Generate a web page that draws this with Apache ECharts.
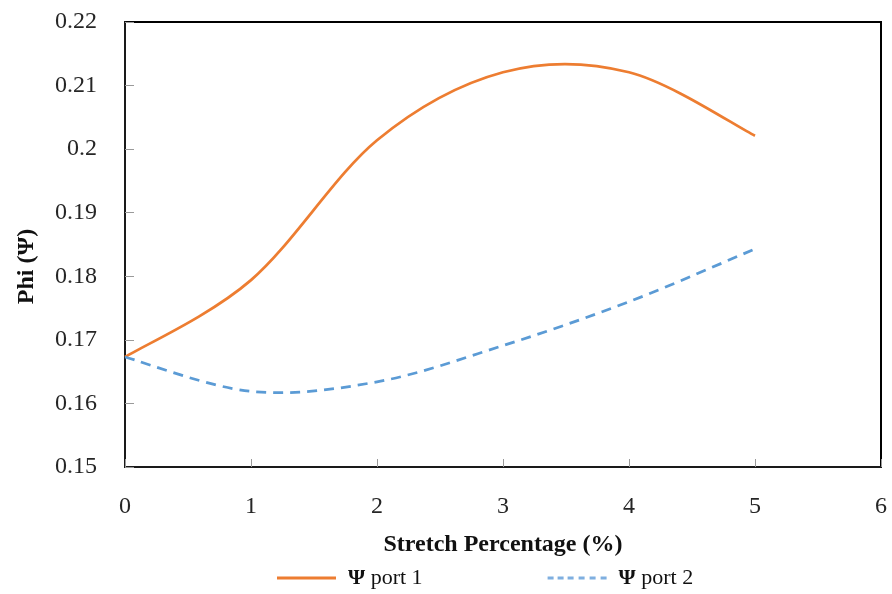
<!DOCTYPE html>
<html>
<head>
<meta charset="utf-8">
<script src="https://cdn.jsdelivr.net/npm/echarts@6/dist/echarts.min.js"></script>
<style>
  html, body { margin: 0; padding: 0; background: #fff; }
  #chart { width: 892px; height: 594px; }
</style>
</head>
<body>
<div id="chart"></div>
<script>
// Stretch percentage (%) and the phase value Phi (Ψ) at each port
const stretch = [0, 1, 2, 3, 4, 5];
const port1 = [0.1673, 0.1794, 0.2014, 0.2121, 0.2121, 0.2021];
const port2 = [0.1673, 0.1619, 0.1634, 0.1691, 0.1760, 0.1843];
const seriesNames = ['Ψ port 1', 'Ψ port 2'];

const serif = '"Liberation Serif", "DejaVu Serif", serif';
const textColor = '#262626';

function pairs(xs, ys) {
  return xs.map((x, i) => [x, ys[i]]);
}

// Smoothed line through the data points (cardinal spline drawn as cubic Béziers),
// with every point placed by the chart's own axes via api.coord.
function smoothLine(xs, ys, lineStyle) {
  return function (params, api) {
    if (params.dataIndex !== 0) return null;
    const pts = xs.map((x, i) => api.coord([x, ys[i]]));
    const n = pts.length;
    let d = 'M' + pts[0][0] + ',' + pts[0][1];
    for (let i = 0; i < n - 1; i++) {
      const p0 = pts[Math.max(i - 1, 0)];
      const p1 = pts[i];
      const p2 = pts[i + 1];
      const p3 = pts[Math.min(i + 2, n - 1)];
      const c1x = p1[0] + (p2[0] - p0[0]) / 6;
      const c1y = p1[1] + (p2[1] - p0[1]) / 6;
      const c2x = p2[0] - (p3[0] - p1[0]) / 6;
      const c2y = p2[1] - (p3[1] - p1[1]) / 6;
      d += ' C' + c1x + ',' + c1y + ' ' + c2x + ',' + c2y + ' ' + p2[0] + ',' + p2[1];
    }
    return {
      type: 'path',
      shape: { pathData: d },
      style: Object.assign({ fill: null, lineCap: 'butt', lineJoin: 'round' }, lineStyle)
    };
  };
}

const solidIcon = 'path://M0,0H59V3H0Z';
const dottedIcon = 'path://M0,0h6v3h-6zM10,0h6v3h-6zM20,0h6v3h-6zM31,0h6v3h-6zM42,0h6v3h-6zM53,0h6v3h-6z';

const chart = echarts.init(document.getElementById('chart'), null, { renderer: 'canvas' });

chart.setOption({
  animation: false,
  backgroundColor: '#ffffff',
  grid: {
    left: 125, right: 11, top: 22, bottom: 127,
    show: true, borderColor: '#000', borderWidth: 2, backgroundColor: 'transparent'
  },
  xAxis: {
    type: 'value', min: 0, max: 6, interval: 1,
    name: 'Stretch Percentage (%)', nameLocation: 'middle', nameGap: 66,
    nameTextStyle: { fontFamily: serif, fontWeight: 'bold', fontSize: 24, color: '#111' },
    axisLine: { show: true, lineStyle: { color: '#1a1a1a', width: 2 } },
    axisTick: { show: true, inside: true, length: 8, lineStyle: { color: '#9a9a9a', width: 1 } },
    axisLabel: { fontFamily: serif, fontSize: 24, color: textColor, margin: 28 },
    splitLine: { show: false }
  },
  yAxis: {
    type: 'value', min: 0.15, max: 0.22, interval: 0.01,
    name: 'Phi (Ψ)', nameLocation: 'middle', nameGap: 86, nameRotate: 90,
    nameTextStyle: {
      fontFamily: serif, fontWeight: 'bold', fontSize: 24, color: '#111',
      padding: [0, 44, 0, 0]
    },
    axisLine: { show: true, lineStyle: { color: '#1a1a1a', width: 2 } },
    axisTick: { show: true, inside: true, length: 9, lineStyle: { color: '#9a9a9a', width: 1 } },
    axisLabel: {
      fontFamily: serif, fontSize: 24, color: textColor, margin: 28,
      formatter: v => String(parseFloat(v.toFixed(2)))
    },
    splitLine: { show: false }
  },
  legend: {
    bottom: 5, left: 277, padding: 0, itemGap: 125, itemWidth: 59, itemHeight: 3,
    data: [
      { name: seriesNames[0], icon: solidIcon },
      { name: seriesNames[1], icon: dottedIcon, itemStyle: { color: '#7FAFE0' } }
    ],
    textStyle: {
      fontFamily: serif, fontSize: 22, color: '#111', padding: [0, 0, 0, 7],
      rich: { psi: { fontFamily: serif, fontSize: 22, fontWeight: 'bold', color: '#111' } }
    },
    formatter: name => '{psi|Ψ}' + name.slice(1)
  },
  series: [
    {
      name: seriesNames[0], type: 'custom', data: pairs(stretch, port1),
      encode: { x: 0, y: 1 },
      itemStyle: { color: '#ED7D31' },
      renderItem: smoothLine(stretch, port1, { stroke: '#ED7D31', lineWidth: 2.75 })
    },
    {
      name: seriesNames[1], type: 'custom', data: pairs(stretch, port2),
      encode: { x: 0, y: 1 },
      itemStyle: { color: '#5B9BD5' },
      renderItem: smoothLine(stretch, port2, { stroke: '#5B9BD5', lineWidth: 2.75, lineDash: [10, 7] })
    }
  ]
});
</script>
</body>
</html>
